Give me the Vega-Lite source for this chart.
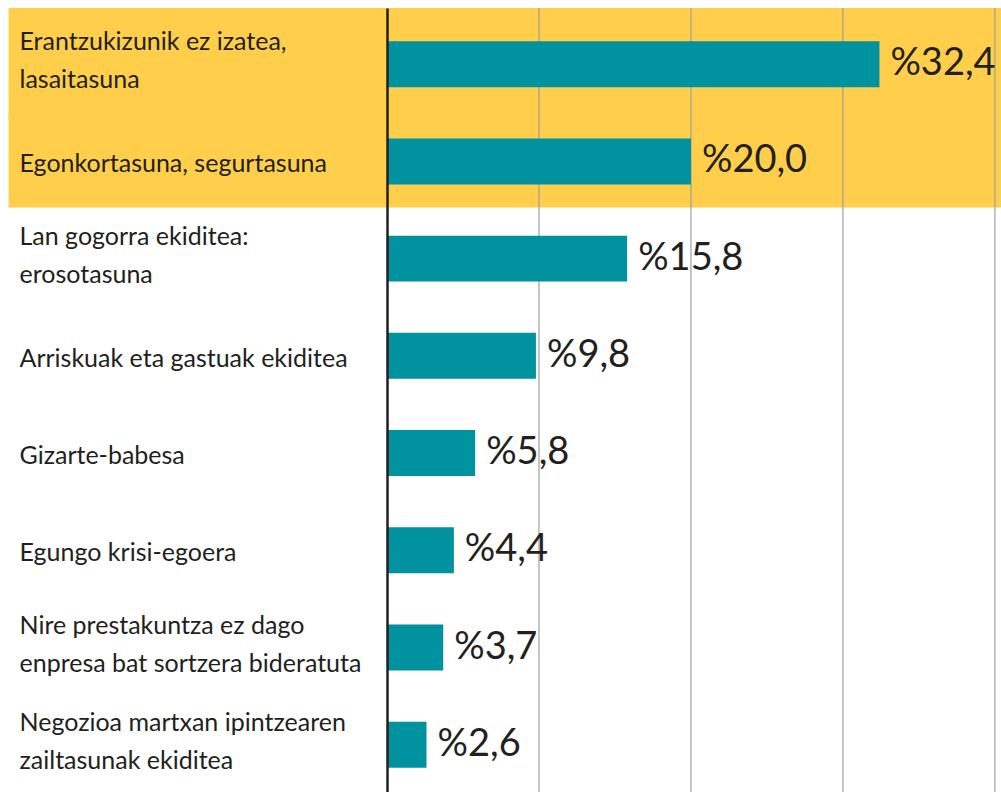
{
  "$schema": "https://vega.github.io/schema/vega-lite/v6.json",
  "width": 614,
  "height": 784,
  "autosize": "none",
  "padding": {"left": 387, "top": 8, "right": 0, "bottom": 0},
  "background": "white",
  "config": {
    "view": {"stroke": null},
    "font": "Lato",
    "axisY": {
      "labelAlign": "left",
      "labelPadding": 368,
      "labelFont": "Lato",
      "labelFontSize": 25,
      "labelColor": "#231f20",
      "labelLineHeight": 38,
      "labelBaseline": "middle",
      "labelLimit": 420,
      "ticks": false,
      "tickSize": 0,
      "domainColor": "#231f20",
      "domainWidth": 2.5,
      "grid": false
    }
  },
  "data": {
    "values": [
      {"cat": "Erantzukizunik ez izatea,|lasaitasuna", "val": 32.4, "txt": "%32,4"},
      {"cat": "Egonkortasuna, segurtasuna", "val": 20.0, "txt": "%20,0"},
      {"cat": "Lan gogorra ekiditea:|erosotasuna", "val": 15.8, "txt": "%15,8"},
      {"cat": "Arriskuak eta gastuak ekiditea", "val": 9.8, "txt": "%9,8"},
      {"cat": "Gizarte-babesa", "val": 5.8, "txt": "%5,8"},
      {"cat": "Egungo krisi-egoera", "val": 4.4, "txt": "%4,4"},
      {"cat": "Nire prestakuntza ez dago|enpresa bat sortzera bideratuta", "val": 3.7, "txt": "%3,7"},
      {"cat": "Negozioa martxan ipintzearen|zailtasunak ekiditea", "val": 2.6, "txt": "%2,6"}
    ]
  },
  "layer": [
    {
      "transform": [{"filter": "datum.cat === 'Erantzukizunik ez izatea,|lasaitasuna'"}],
      "mark": {"type": "bar", "color": "#FFCE4A", "height": {"band": 2.44}},
      "encoding": {
        "y": {"field": "cat", "type": "nominal", "sort": null, "title": null,
              "scale": {"paddingInner": 0.527, "paddingOuter": 0.295, "align": 0.578},
              "axis": {"labelExpr": "split(datum.value, '|')", "title": null, "zindex": 1,
                       "labelOffset": {"condition": {"test": "indexof(datum.value, '|') >= 0", "value": -22}, "value": 3}}},
        "x": {"datum": -24.9, "type": "quantitative", "scale": {"domain": [0, 40.4], "nice": false, "zero": false}, "axis": null},
        "x2": {"datum": 40.4}
      }
    },
    {
      "transform": [{"filter": "datum.cat === 'Egonkortasuna, segurtasuna'"}],
      "mark": {"type": "bar", "color": "#FFCE4A", "height": {"band": 2.01}},
      "encoding": {
        "y": {"field": "cat", "type": "nominal", "sort": null, "title": null,
              "scale": {"paddingInner": 0.527, "paddingOuter": 0.295, "align": 0.578},
              "axis": {"labelExpr": "split(datum.value, '|')", "title": null, "zindex": 1,
                       "labelOffset": {"condition": {"test": "indexof(datum.value, '|') >= 0", "value": -22}, "value": 3}}},
        "x": {"datum": -24.9, "type": "quantitative", "scale": {"domain": [0, 40.4], "nice": false, "zero": false}, "axis": null},
        "x2": {"datum": 40.4}
      }
    },
    {
      "data": {"values": [{"g": 10}, {"g": 20}, {"g": 30}, {"g": 40}]},
      "mark": {"type": "rule", "color": "#9e9e9e", "strokeWidth": 1.2},
      "encoding": {
        "x": {"field": "g", "type": "quantitative", "scale": {"domain": [0, 40.4], "nice": false, "zero": false}, "axis": null}
      }
    },
    {
      "mark": {"type": "bar", "color": "#00929F"},
      "encoding": {
        "y": {"field": "cat", "type": "nominal", "sort": null, "title": null,
              "scale": {"paddingInner": 0.527, "paddingOuter": 0.295, "align": 0.578},
              "axis": {"labelExpr": "split(datum.value, '|')", "title": null, "zindex": 1,
                       "labelOffset": {"condition": {"test": "indexof(datum.value, '|') >= 0", "value": -22}, "value": 3}}},
        "x": {"field": "val", "type": "quantitative", "scale": {"domain": [0, 40.4], "nice": false, "zero": false}, "axis": null}
      }
    },
    {
      "mark": {"type": "text", "align": "left", "baseline": "middle", "dx": 11, "fontSize": 38, "color": "#231f20", "font": "Lato"},
      "encoding": {
        "y": {"field": "cat", "type": "nominal", "sort": null, "title": null,
              "scale": {"paddingInner": 0.527, "paddingOuter": 0.295, "align": 0.578},
              "axis": {"labelExpr": "split(datum.value, '|')", "title": null, "zindex": 1,
                       "labelOffset": {"condition": {"test": "indexof(datum.value, '|') >= 0", "value": -22}, "value": 3}}},
        "x": {"field": "val", "type": "quantitative", "scale": {"domain": [0, 40.4], "nice": false, "zero": false}, "axis": null},
        "text": {"field": "txt"}
      }
    }
  ]
}
